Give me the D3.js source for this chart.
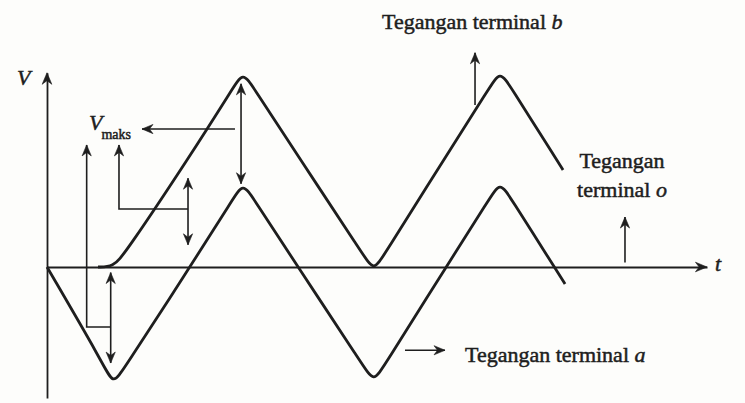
<!DOCTYPE html>
<html>
<head>
<meta charset="utf-8">
<script src="https://cdn.jsdelivr.net/npm/d3@7/dist/d3.min.js"></script>
<style>
  html, body { margin: 0; padding: 0; background: #fdfdfb; }
  svg { display: block; }
  text { font-family: "Liberation Serif", "DejaVu Serif", serif; fill: #1e1e1e; }
</style>
</head>
<body>
<svg id="chart" width="745" height="403"></svg>
<script>
// Phase angle ωt (degrees) and voltage (in units of V_maks) for terminal a.
// Points trace the wave's straight flanks and its corners; a B-spline rounds the corners.
const wtA = [0, 77.6, 91.5, 105.4, 198.3, 257.9, 271.7, 285.6, 348.0, 438.8, 452.7, 466.5, 553.2, 614.2, 628.0, 641.9, 701.5, 718.2];
const vA  = [0, -0.865, -1.063, -0.928, 0, 0.613, 0.757, 0.622, 0, -0.892, -1.036, -0.901, 0, 0.622, 0.766, 0.631, 0.018, -0.153];

// Terminal b, lifted by V_maks once the first negative peak has passed
const wtB = [70.7, 91.5, 108.0, 198.3, 257.9, 271.7, 285.6, 348.0, 438.8, 452.7, 466.5, 553.2, 614.2, 628.0, 641.9, 701.5, 715.4];
const vB  = [0, 0, 0.12, 1.0, 1.613, 1.757, 1.622, 1.0, 0.108, -0.036, 0.099, 1.0, 1.622, 1.766, 1.631, 1.018, 0.874];

// Axis extents
const tRange = [0, 915];
const vRange = [-1.18, 1.75];

// Annotation arrows [ωt, V]
const vmaksArrow   = [[260.6, 1.243], [131.7, 1.243]];
const peakSpan     = [[269, 1.65], [269, 0.75]];
const midSpan      = [[195.5, 0.80], [195.5, 0.20]];
const troughSpan   = [[88.3, -0.05], [88.3, -0.865]];
const bracketUpper = [[195.5, 0.523], [99.8, 0.523], [99.8, 1.10]];
const bracketLower = [[88.3, -0.54], [55, -0.54], [55, 1.10]];
const arrowB       = [[593.4, 1.46], [593.4, 1.93]];
const arrowO       = [[801.3, 0.04], [801.3, 0.45]];
const arrowA       = [[496.3, -0.75], [551.8, -0.75]];

const svg = d3.select("#chart");
const ink = "#1e1e1e";

const x = d3.scaleLinear().domain(tRange).range([47, 707]);
const y = d3.scaleLinear().domain(vRange).range([398, 72.75]);

// Axes without ticks: just the lines
svg.append("g")
  .attr("transform", `translate(0,${y(0)})`)
  .call(d3.axisBottom(x).tickValues([]).tickSizeOuter(0))
  .call(g => g.select(".domain").attr("stroke", ink).attr("stroke-width", 1.8));
svg.append("g")
  .attr("transform", `translate(${x(0)},0)`)
  .call(d3.axisLeft(y).tickValues([]).tickSizeOuter(0))
  .call(g => g.select(".domain").attr("stroke", ink).attr("stroke-width", 1.8));

// Barbed arrowhead at a tip, pointing along angle (radians)
function head(px, py, ang, s = 1) {
  const p = d3.path();
  const pts = [[0, 0], [-11 * s, -4.6 * s], [-7.5 * s, 0], [-11 * s, 4.6 * s]];
  const c = Math.cos(ang), sn = Math.sin(ang);
  pts.forEach(([a, b], i) => {
    const X = px + a * c - b * sn, Y = py + a * sn + b * c;
    i ? p.lineTo(X, Y) : p.moveTo(X, Y);
  });
  p.closePath();
  svg.append("path").attr("d", p.toString()).attr("fill", ink).attr("stroke", ink).attr("stroke-width", 0.6);
}

head(x(tRange[1]), y(0), 0, 1.05);
head(x(0), y(vRange[1]), -Math.PI / 2, 1.05);

// Waveforms
const line = d3.line().x(d => x(d[0])).y(d => y(d[1])).curve(d3.curveBasis);
svg.append("path").datum(wtA.map((t, i) => [t, vA[i]]))
  .attr("d", line).attr("fill", "none").attr("stroke", ink).attr("stroke-width", 2.8).attr("stroke-linejoin", "round");
svg.append("path").datum(wtB.map((t, i) => [t, vB[i]]))
  .attr("d", line).attr("fill", "none").attr("stroke", ink).attr("stroke-width", 2.8).attr("stroke-linejoin", "round");

// Annotation arrows
const straight = d3.line().x(d => x(d[0])).y(d => y(d[1]));
function arrow(pts, both) {
  svg.append("path").datum(pts).attr("d", straight)
    .attr("fill", "none").attr("stroke", ink).attr("stroke-width", 1.6);
  const n = pts.length;
  const [x1, y1] = [x(pts[n - 1][0]), y(pts[n - 1][1])];
  const [x0, y0] = [x(pts[n - 2][0]), y(pts[n - 2][1])];
  head(x1, y1, Math.atan2(y1 - y0, x1 - x0));
  if (both) {
    const [a1, b1] = [x(pts[0][0]), y(pts[0][1])];
    const [a0, b0] = [x(pts[1][0]), y(pts[1][1])];
    head(a1, b1, Math.atan2(b1 - b0, a1 - a0));
  }
}
arrow(vmaksArrow, false);
arrow(peakSpan, true);
arrow(midSpan, true);
arrow(troughSpan, true);
arrow(bracketUpper, false);
arrow(bracketLower, false);
arrow(arrowB, false);
arrow(arrowO, false);
arrow(arrowA, false);

// Labels
const lbl = svg.append("g").attr("font-size", 22).attr("stroke", ink).attr("stroke-width", 0.5);
lbl.append("text").attr("x", 17).attr("y", y(1.64)).attr("font-style", "italic").text("V");
const vm = lbl.append("text").attr("x", 89).attr("y", y(1.234));
vm.append("tspan").attr("font-style", "italic").text("V");
vm.append("tspan").attr("font-size", 14).attr("dy", 9).attr("dx", -1).text("maks");
lbl.append("text").attr("x", 715).attr("y", y(-0.04)).attr("font-style", "italic").text("t");

const tb = lbl.append("text").attr("x", 382).attr("y", 29);
tb.append("tspan").text("Tegangan terminal ");
tb.append("tspan").attr("font-style", "italic").text("b");

lbl.append("text").attr("x", 622).attr("y", y(0.892)).attr("text-anchor", "middle").text("Tegangan");
const to = lbl.append("text").attr("x", 622).attr("y", y(0.63)).attr("text-anchor", "middle");
to.append("tspan").text("terminal ");
to.append("tspan").attr("font-style", "italic").text("o");

const ta = lbl.append("text").attr("x", 465).attr("y", y(-0.856));
ta.append("tspan").text("Tegangan terminal ");
ta.append("tspan").attr("font-style", "italic").text("a");
</script>
</body>
</html>
